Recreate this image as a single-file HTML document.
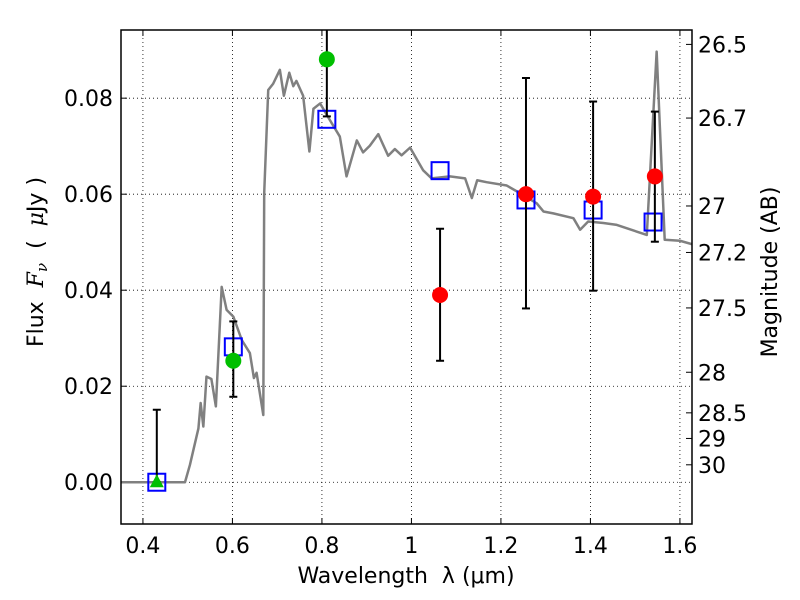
<!DOCTYPE html>
<html><head><meta charset="utf-8"><style>
body{margin:0;background:#fff}
svg{display:block;font-family:"DejaVu Sans","Liberation Sans",sans-serif}
</style></head><body>
<svg id="chart" width="800" height="600"></svg>
<script>
const xTicks=[0.4,0.6,0.8,1,1.2,1.4,1.6];
const xTickLabels=["0.4","0.6","0.8","1","1.2","1.4","1.6"];
const yTicks=[0,0.02,0.04,0.06,0.08];
const yTickLabels=["0.00","0.02","0.04","0.06","0.08"];
const magTicks=[26.5,26.7,27,27.2,27.5,28,28.5,29,30];
const magTickLabels=["26.5","26.7","27","27.2","27.5","28","28.5","29","30"];
const specLam=[0.351,0.494,0.505,0.524,0.529,0.535,0.542,0.553,0.563,0.576,0.587,0.602,0.621,0.639,0.648,0.654,0.669,0.671,0.680,0.691,0.706,0.715,0.727,0.736,0.743,0.758,0.772,0.781,0.796,0.818,0.840,0.855,0.878,0.892,0.907,0.926,0.948,0.963,0.978,0.997,1.026,1.045,1.086,1.12,1.135,1.147,1.168,1.213,1.239,1.280,1.295,1.317,1.362,1.377,1.395,1.429,1.459,1.526,1.548,1.566,1.600,1.63];
const specFlux=[0,0,0.0036,0.0112,0.0165,0.0116,0.022,0.0215,0.0158,0.0407,0.0359,0.0345,0.0296,0.0269,0.0217,0.0228,0.014,0.0602,0.0817,0.083,0.0859,0.0805,0.0853,0.0825,0.0836,0.0805,0.0689,0.0778,0.0789,0.0754,0.072,0.0637,0.0712,0.0687,0.0701,0.0725,0.068,0.0694,0.0681,0.0697,0.065,0.0633,0.0637,0.0633,0.0592,0.0629,0.0625,0.0618,0.0604,0.0581,0.0564,0.056,0.055,0.0526,0.0543,0.054,0.0536,0.0515,0.0897,0.0505,0.0503,0.0495];
const modelLam=[0.431,0.602,0.811,1.064,1.256,1.406,1.54];
const modelFlux=[0,0.0282,0.0756,0.0649,0.0588,0.0567,0.0542];
const greenLam=[0.602,0.811];
const greenFlux=[0.0253,0.0881];
const greenLo=[0.0178,0.0762];
const greenHi=[0.0335,0.12];
const triLam=[0.431];const triFlux=[0];const triHi=[0.0151];
const redLam=[1.064,1.256,1.406,1.544];
const redFlux=[0.039,0.060,0.0595,0.0637];
const redLo=[0.0253,0.0362,0.0399,0.0501];
const redHi=[0.0528,0.0842,0.0793,0.0772];

const L=121,R=692,T=30,B=524;
const X0=0.351,X1=1.627,Y0=-0.0087,Y1=0.0942;
const sx=v=>L+(v-X0)/(X1-X0)*(R-L);
const sy=v=>B-(v-Y0)/(Y1-Y0)*(B-T);
const NS="http://www.w3.org/2000/svg";
const svg=document.getElementById('chart');
function mk(tag,attrs,parent){const e=document.createElementNS(NS,tag);for(const k in attrs)e.setAttribute(k,attrs[k]);(parent||svg).appendChild(e);return e;}
const defs=mk('defs',{});const cp=mk('clipPath',{id:'pc'},defs);mk('rect',{x:L,y:T,width:R-L,height:B-T},cp);

xTicks.forEach((t,i)=>{const x=sx(t);
 const g=mk('line',{x1:x,x2:x,y1:T,y2:B,stroke:'#000','stroke-width':0.8,'stroke-dasharray':'1,3'});
 
 mk('line',{x1:x,x2:x,y1:B,y2:B-6,stroke:'#000'});mk('line',{x1:x,x2:x,y1:T,y2:T+6,stroke:'#000'});
 const tx=mk('text',{x:x,y:B+29,'text-anchor':'middle','font-size':22});tx.textContent=xTickLabels[i];
 });
yTicks.forEach((t,i)=>{const y=sy(t);
 const g=mk('line',{x1:L,x2:R,y1:y,y2:y,stroke:'#000','stroke-width':0.8,'stroke-dasharray':'1,3'});
 
 mk('line',{x1:L,x2:L+6,y1:y,y2:y,stroke:'#000'});
 const tx=mk('text',{x:L-8,y:y+8,'text-anchor':'end','font-size':22});tx.textContent=yTickLabels[i];
 });
magTicks.forEach((m,i)=>{const y=sy(Math.pow(10,(23.9-m)/2.5));
 mk('line',{x1:R-6,x2:R,y1:y,y2:y,stroke:'#000'});
 const tx=mk('text',{x:R+6,y:y+8,'font-size':22});tx.textContent=magTickLabels[i];
 });

const pg=mk('g',{'clip-path':'url(#pc)'});
const sp=mk('polyline',{points:specLam.map((l,i)=>sx(l)+','+sy(specFlux[i])).join(' '),fill:'none',stroke:'#808080','stroke-width':2.5,'stroke-linejoin':'round'},pg);


modelLam.forEach((l,i)=>{const b=mk('rect',{x:sx(l)-8.5,y:sy(modelFlux[i])-8.5,width:17,height:17,fill:'none',stroke:'#0000ff','stroke-width':2},pg);
 });
function err(x,lo,hi){const g=mk('g',{stroke:'#000','stroke-width':2},pg);
 mk('line',{x1:x,x2:x,y1:sy(lo),y2:sy(hi)},g);mk('line',{x1:x-4,x2:x+4,y1:sy(lo),y2:sy(lo)},g);mk('line',{x1:x-4,x2:x+4,y1:sy(hi),y2:sy(hi)},g);
 }
triLam.forEach((l,i)=>{err(sx(l),triFlux[i],triHi[i]);const x=sx(l),y=sy(triFlux[i]);
 const t=mk('polygon',{points:`${x},${y-8} ${x-7},${y+5} ${x+7},${y+5}`,fill:'#00bf00'},pg);
 });
greenLam.forEach((l,i)=>{err(sx(l),greenLo[i],greenHi[i]);
 const c=mk('circle',{cx:sx(l),cy:sy(greenFlux[i]),r:8,fill:'#00bf00'},pg);
 });
redLam.forEach((l,i)=>{err(sx(l),redLo[i],redHi[i]);
 const c=mk('circle',{cx:sx(l),cy:sy(redFlux[i]),r:8,fill:'#ff0000'},pg);
 });

const fr=mk('rect',{x:L,y:T,width:R-L,height:B-T,fill:'none',stroke:'#000','stroke-width':1.5});

const xl=mk('text',{x:406,y:583,'text-anchor':'middle','font-size':22});xl.textContent='Wavelength\u00a0\u00a0λ (μm)';

const yl=mk('text',{x:0,y:0,'text-anchor':'middle','font-size':22,transform:'translate(43,262) rotate(-90)'});yl.innerHTML='Flux\u00a0\u00a0<tspan font-style="italic" font-family="DejaVu Serif,serif">F</tspan><tspan font-style="italic" font-size="15" dy="4" font-family="DejaVu Serif,serif">ν</tspan><tspan dy="-4">\u00a0\u00a0(\u00a0\u00a0<tspan font-style="italic" font-family="DejaVu Serif,serif">μ</tspan>Jy )</tspan>';

const ml=mk('text',{x:0,y:0,'text-anchor':'middle','font-size':22,transform:'translate(777,272) rotate(-90)'});ml.textContent='Magnitude (AB)';

</script>
</body></html>
